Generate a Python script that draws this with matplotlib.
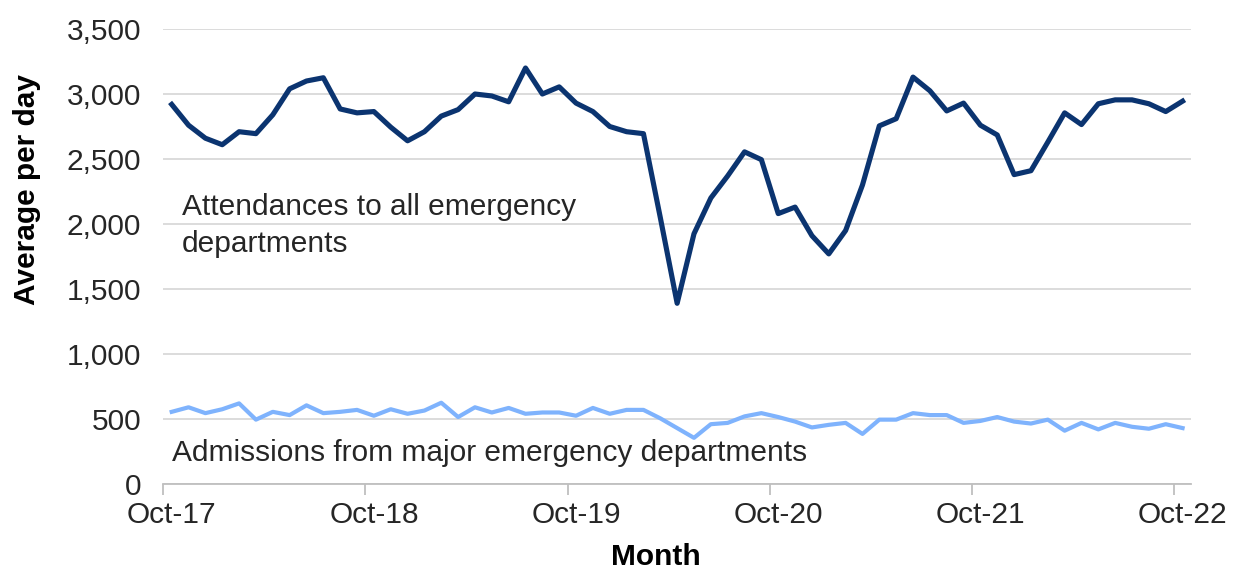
import matplotlib
matplotlib.use("Agg")
import matplotlib.pyplot as plt
import numpy as np
import pandas as pd

# monthly averages per day, Oct-17 .. Oct-22
months = pd.date_range("2017-10-01", periods=61, freq="MS")

attendances = [2920, 2760, 2660, 2610, 2710, 2695, 2840, 3040, 3100, 3125,
               2885, 2855, 2865, 2745, 2640, 2710, 2830, 2880, 3000, 2985,
               2940, 3200, 3000, 3055, 2930, 2865, 2750, 2710, 2695, 2050,
               1390, 1925, 2200, 2370, 2555, 2495, 2080, 2130, 1910, 1770,
               1950, 2300, 2755, 2810, 3130, 3025, 2870, 2930, 2760, 2685,
               2380, 2410, 2630, 2855, 2765, 2925, 2955, 2955, 2925, 2865,
               2945]

admissions = [555, 590, 545, 575, 620, 495, 555, 530, 605, 545,
              555, 570, 525, 575, 540, 565, 625, 515, 590, 550,
              585, 540, 550, 550, 525, 585, 540, 570, 570, 505,
              430, 355, 460, 470, 520, 545, 515, 480, 435, 455,
              470, 385, 495, 495, 545, 530, 530, 470, 485, 515,
              480, 465, 495, 410, 470, 420, 470, 440, 425, 460,
              430]

yticks = [0, 500, 1000, 1500, 2000, 2500, 3000, 3500]

plt.rcParams["font.family"] = ["Liberation Sans", "DejaVu Sans"]
FS = 21.5

fig = plt.figure(figsize=(12.36, 5.70), dpi=100)
ax = fig.add_axes([0.1321, 0.1509, 0.8315, 0.7982])

x = np.arange(len(months))
ax.plot(x, attendances, color="#0b3470", lw=3.7, solid_joinstyle="round")
ax.plot(x, admissions, color="#7fb3fd", lw=3.0, solid_joinstyle="round")

ax.set_xlim(-0.5, len(months) - 0.5)
ax.set_ylim(0, 3500)
ax.set_yticks(yticks)
ax.set_yticklabels([f"{v:,}" for v in yticks], fontsize=FS, color="#262626")
ax.grid(axis="y", color="#d9d9d9", lw=1.3)
ax.set_axisbelow(True)

lab_idx = list(range(0, len(months), 12))
ax.set_xticks(lab_idx)
ax.set_xticklabels([months[i].strftime("%b-%y") for i in lab_idx], fontsize=FS, color="#262626")
ax.set_xticks([i - 0.5 for i in lab_idx], minor=True)
ax.tick_params(axis="x", which="major", length=0, pad=12)
ax.tick_params(axis="x", which="minor", length=8, color="#bfbfbf", width=1.3)
ax.tick_params(axis="y", length=0, pad=16)

for s in ["top", "right", "left"]:
    ax.spines[s].set_visible(False)
ax.spines["bottom"].set_color("#bfbfbf")
ax.spines["bottom"].set_linewidth(1.3)

ax.text(0.6, 2071, "Attendances to all emergency", fontsize=FS, color="#262626", va="baseline")
ax.text(0.6, 1785, "departments", fontsize=FS, color="#262626", va="baseline")
ax.text(0.0, 177, "Admissions from major emergency departments", fontsize=FS, color="#262626", va="baseline")

fig.text(656 / 1236, 1 - 557 / 570, "Month", fontsize=FS, fontweight="bold", ha="center", va="center")
fig.text(27 / 1236, 1 - 190 / 570, "Average per day", fontsize=FS, fontweight="bold",
         rotation=90, ha="center", va="center")

fig.savefig("out.png", dpi=100)
